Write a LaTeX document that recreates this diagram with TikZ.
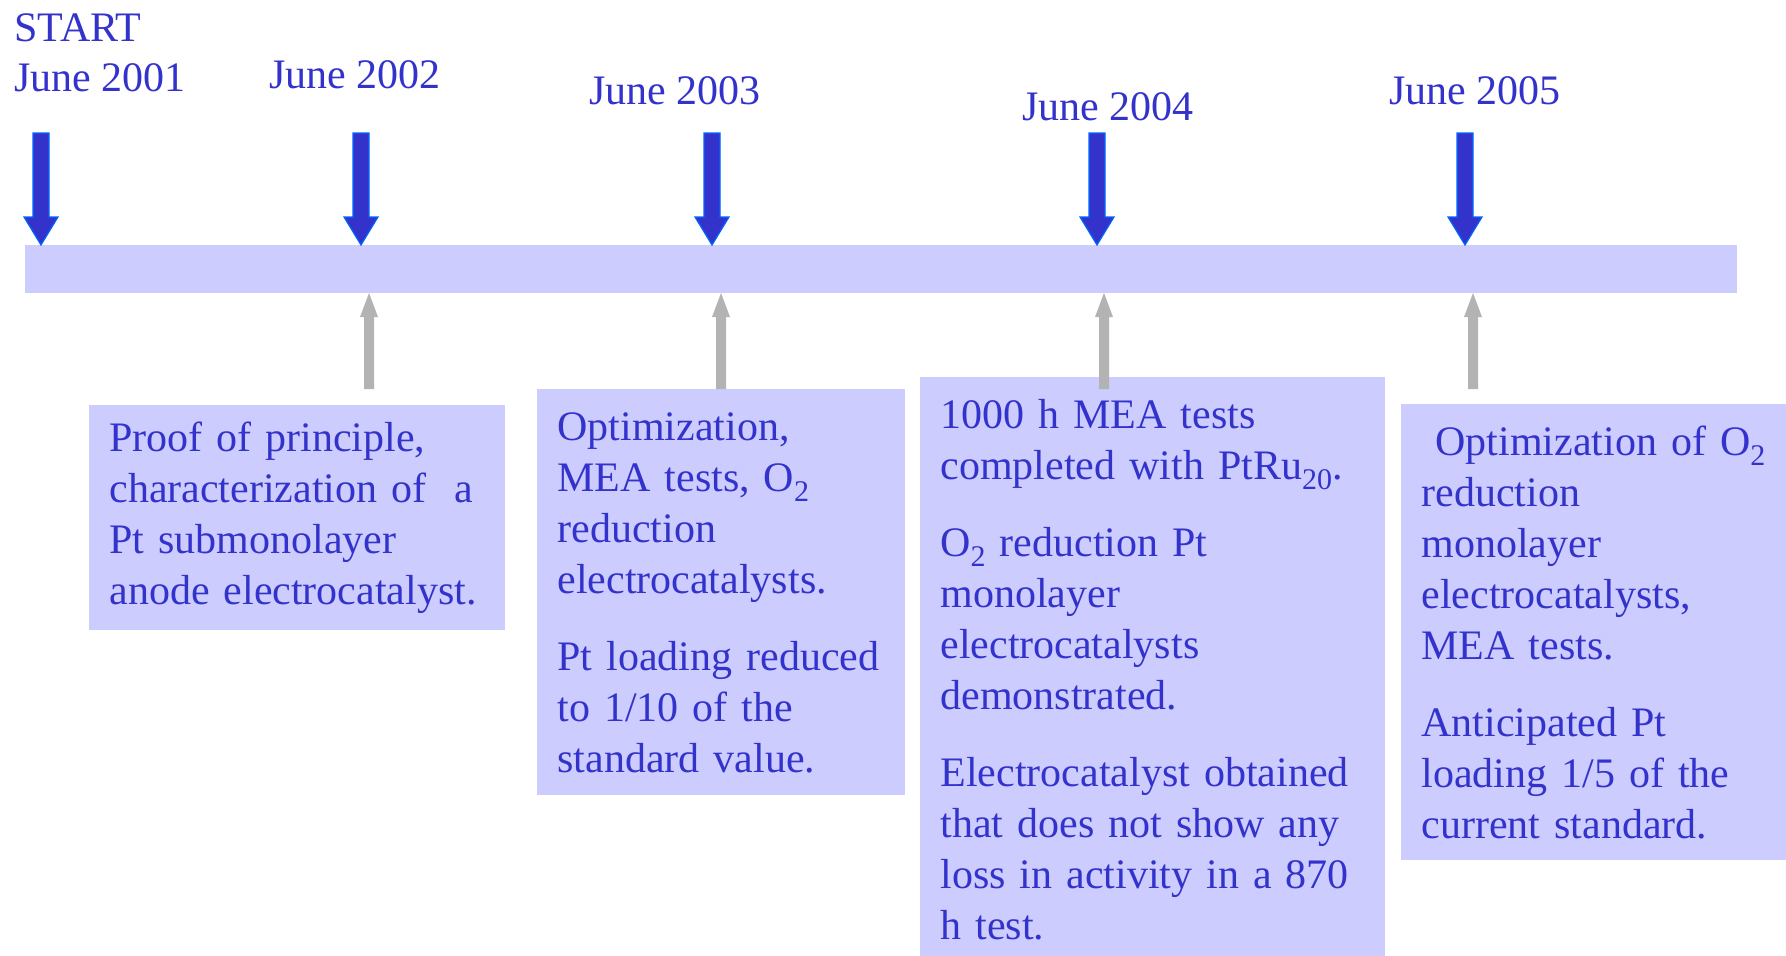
\documentclass[tikz,border=0pt]{standalone}
\usepackage{fontspec}
\setmainfont{Liberation Serif}
\usepackage{tikz}

\definecolor{txtblue}{HTML}{3333CC}
\definecolor{barblue}{HTML}{CCCCFF}
\definecolor{rimblue}{HTML}{0066FF}
\definecolor{upgray}{HTML}{B3B3B3}

\newcommand{\lowsub}[1]{\raisebox{-5pt}{\fontsize{15}{15}\selectfont #1}}

\tikzset{
  datelbl/.style={text=txtblue, font=\fontsize{21}{25}\selectfont, inner sep=0pt, anchor=base west, align=left},
  notebox/.style={fill=barblue, text=txtblue, font=\fontsize{21}{25.5}\selectfont, anchor=north west, align=left, inner xsep=10pt, inner ysep=0pt},
}

\begin{document}
\begin{tikzpicture}[x=0.5pt,y=0.5pt]
\path[use as bounding box, clip] (0,0) rectangle (1786,-955);

% the time bar
\node[fill=barblue, minimum width=856pt, minimum height=24pt, inner sep=0pt, anchor=north west] (bar) at (25,-245) {};

% dates
\node[datelbl] (d2001) at (14,-91) {START\\June 2001};
\node[datelbl] (d2002) at (269,-88) {June 2002};
\node[datelbl] (d2003) at (589,-104) {June 2003};
\node[datelbl] (d2004) at (1022,-120) {June 2004};
\node[datelbl] (d2005) at (1389,-104) {June 2005};

% blue arrows down to the bar
\foreach \x in {41,361,712,1097,1465}
  \filldraw[fill=txtblue, draw=rimblue, line width=0.6pt]
    (\x-8,-133) -- (\x+8,-133) -- (\x+8,-217) -- (\x+17,-217) -- (\x,-245)
    -- (\x-17,-217) -- (\x-8,-217) -- cycle;

% results
\node[notebox, minimum width=208pt, minimum height=112.5pt, text width=188pt] (r2002) at (89,-405)
  {Proof of principle,\\characterization of ~a\\Pt submonolayer\\anode electrocatalyst.};
\node[notebox, minimum width=184pt, minimum height=203pt, text width=164pt] (r2003) at (537,-389)
  {Optimization,\\MEA tests, O\lowsub{2}\\reduction\\electrocatalysts.\\[13pt]Pt loading reduced\\to 1/10 of the\\standard value.};
\node[notebox, minimum width=232.5pt, minimum height=292.5pt, text width=212.5pt] (r2004) at (920,-377)
  {1000 h MEA tests\\completed with PtRu\lowsub{20}.\\[13pt]O\lowsub{2} reduction Pt\\monolayer\\electrocatalysts\\demonstrated.\\[13pt]Electrocatalyst obtained\\that does not show any\\loss in activity in a 870\\h test.};
\node[notebox, minimum width=192.5pt, minimum height=228pt, text width=172.5pt] (r2005) at (1401,-404)
  {\ Optimization of O\lowsub{2}\\reduction\\monolayer\\electrocatalysts,\\MEA tests.\\[13pt]Anticipated Pt\\loading 1/5 of the\\current standard.};

% gray arrows up to the bar
\foreach \x in {369,721,1104,1473}
  \fill[upgray] (\x-5,-389) -- (\x+5,-389) -- (\x+5,-317) -- (\x+9,-317) -- (\x,-293)
    -- (\x-9,-317) -- (\x-5,-317) -- cycle;
\end{tikzpicture}
\end{document}
